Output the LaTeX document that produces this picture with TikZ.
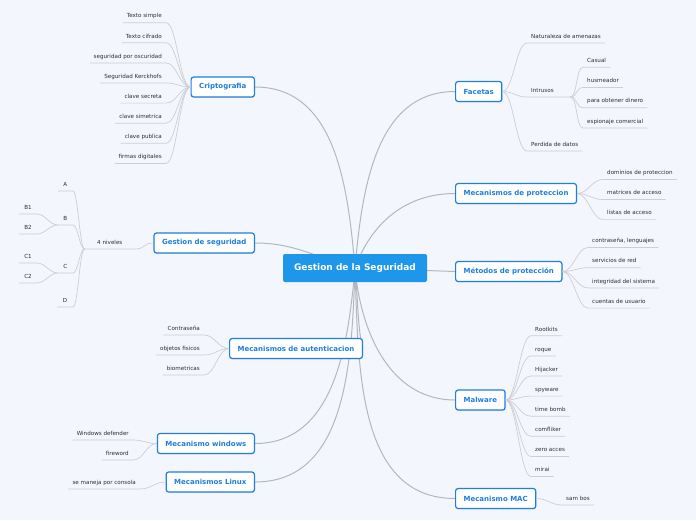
\documentclass[tikz,border=0pt]{standalone}
\usepackage{fontspec}
\setmainfont{DejaVu Sans}
\usetikzlibrary{backgrounds,shadows}

\definecolor{fondo}{HTML}{F3F6FD}
\definecolor{azulhub}{HTML}{1E96EA}
\definecolor{azultema}{HTML}{1F7FDD}
\definecolor{gristema}{HTML}{B5B6C2}
\definecolor{grishoja}{HTML}{CDCED6}
\definecolor{textohoja}{HTML}{2E2E2E}

\begin{document}
\begin{tikzpicture}[x=1pt,y=1pt,
  hub/.style={fill=azulhub,rounded corners=2pt,text=white,font=\fontsize{9}{10}\selectfont\bfseries,
    minimum width=144pt,minimum height=28pt,inner sep=0pt},
  tema/.style={draw=azultema,line width=1.2pt,fill=white,rounded corners=2.5pt,text=azultema,
    font=\fontsize{7}{8}\selectfont\bfseries,inner xsep=8pt,minimum height=20pt,
    drop shadow={shadow xshift=0.5pt,shadow yshift=-0.8pt,opacity=0.18}},
  hoja/.style={text=textohoja,font=\fontsize{5.6}{6.5}\selectfont,inner xsep=4pt,inner ysep=3.2pt,
    text height=4.2pt,text depth=1.4pt},
  hojaL/.style={hoja,anchor=south east},
  hojaR/.style={hoja,anchor=south west},
  rama/.style={draw=gristema,line width=1pt},
  ramita/.style={draw=grishoja,line width=0.7pt},
  izq/.style={out=180,in=0,distance=11},
  der/.style={out=0,in=180,distance=11}]
  \useasboundingbox (0,0) rectangle (696,-520);

  % nodo central y temas
  \node[hub] (hub) at (355,-268) {Gestion de la Seguridad};
  \node[tema,anchor=east] (crypto) at (255,-87) {Criptografia};
  \node[tema,anchor=east] (gest) at (255,-243) {Gestion de seguridad};
  \node[tema,anchor=east] (auth) at (363,-348.5) {Mecanismos de autenticacion};
  \node[tema,anchor=east] (win) at (255,-443.5) {Mecanismo windows};
  \node[tema,anchor=east] (linux) at (255,-482) {Mecanismos Linux};
  \node[tema,anchor=west] (facet) at (455,-91.5) {Facetas};
  \node[tema,anchor=west] (mprot) at (455,-193.5) {Mecanismos de proteccion};
  \node[tema,anchor=west] (metod) at (455,-271.5) {Métodos de protección};
  \node[tema,anchor=west] (malw) at (455,-400) {Malware};
  \node[tema,anchor=west] (mac) at (455,-498.5) {Mecanismo MAC};

  % criptografia
  \foreach \t [count=\i] in {Texto simple,Texto cifrado,seguridad por oscuridad,Seguridad Kerckhofs,
      clave secreta,clave simetrica,clave publica,firmas digitales}{
    \node[hojaL] (cr\i) at (166,{-2.6-20.1*\i}) {\t};
    \draw[ramita] (crypto.west) to[izq] (cr\i.south east) -- (cr\i.south west);
  }

  % gestion de seguridad: 4 niveles
  \node[hojaL,text width=42pt,align=center] (niv) at (135,-249) {4 niveles};
  \draw[ramita] (gest.west) to[izq] (niv.south east) -- (niv.south west);
  \foreach \t/\y in {A/191,B/225,C/273,D/307}{
    \node[hojaL,inner xsep=5.5pt] (nv\t) at (73,-\y) {\t};
    \draw[ramita] (niv.south west) to[out=180,in=0,distance=5] (nv\t.south east) -- (nv\t.south west);
  }
  \foreach \p/\t/\y in {B/B1/214,B/B2/234,C/C1/263,C/C2/283}{
    \node[hojaL,inner xsep=5pt] (nv\t) at (37,-\y) {\t};
    \draw[ramita] (nv\p.south west) to[out=180,in=0,distance=8] (nv\t.south east) -- (nv\t.south west);
  }

  % autenticacion, windows, linux
  \foreach \t [count=\i] in {Contraseña,objetos fisicos,biometricas}{
    \node[hojaL] (au\i) at (204,{-315-20*\i}) {\t};
    \draw[ramita] (auth.west) to[izq] (au\i.south east) -- (au\i.south west);
  }
  \foreach \t [count=\i] in {Windows defender,fireword}{
    \node[hojaL] (wi\i) at (133,{-420-20*\i}) {\t};
    \draw[ramita] (win.west) to[izq] (wi\i.south east) -- (wi\i.south west);
  }
  \node[hojaL] (li1) at (140,-489) {se maneja por consola};
  \draw[ramita] (linux.west) to[izq] (li1.south east) -- (li1.south west);

  % facetas
  \node[hojaR] (fa1) at (527,-43) {Naturaleza de amenazas};
  \node[hojaR,text width=35pt,align=left] (intr) at (527,-97) {Intrusos};
  \node[hojaR] (fa3) at (527,-151) {Perdida de datos};
  \foreach \n in {fa1,intr,fa3}
    \draw[ramita] (facet.east) to[der] (\n.south west) -- (\n.south east);
  \foreach \t [count=\i] in {Casual,husmeador,para obtener dinero,espionaje comercial}{
    \node[hojaR] (in\i) at (583,{-47.1-20.2*\i}) {\t};
    \draw[ramita] (intr.south east) to[out=0,in=180,distance=7] (in\i.south west) -- (in\i.south east);
  }

  % mecanismos y metodos de proteccion
  \foreach \t [count=\i] in {dominios de proteccion,matrices de acceso,listas de acceso}{
    \node[hojaR] (mp\i) at (603,{-159.3-20.1*\i}) {\t};
    \draw[ramita] (mprot.east) to[der] (mp\i.south west) -- (mp\i.south east);
  }
  \foreach \t [count=\i] in {{contraseña, lenguajes},servicios de red,integridad del sistema,cuentas de usuario}{
    \node[hojaR] (me\i) at (588,{-227.3-20.2*\i}) {\t};
    \draw[ramita] (metod.east) to[der] (me\i.south west) -- (me\i.south east);
  }

  % malware y mac
  \foreach \t [count=\i] in {Rootkits,roque,Hijacker,spyware,time bomb,comfliker,zero acces,mirai}{
    \node[hojaR] (mw\i) at (531,{-315.7-20.1*\i}) {\t};
    \draw[ramita] (malw.east) to[der] (mw\i.south west) -- (mw\i.south east);
  }
  \node[hojaR] (ma1) at (562,-505) {sam bos};
  \draw[ramita] (mac.east) to[der] (ma1.south west) -- (ma1.south east);

  % ramas principales detras del nodo central
  \begin{pgfonlayer}{background}
    \fill[fondo] (0,0) rectangle (696,-520);
    \draw[rama] (hub.center) to[out=95,in=0] (crypto.east);
    \draw[rama] (hub.center) to[out=165,in=0] (gest.east);
    \draw[rama] (hub.center) to[out=-82,in=110,looseness=0.5] (auth.east);
    \draw[rama] (hub.center) to[out=-95,in=0] (win.east);
    \draw[rama] (hub.center) to[out=-92,in=0] (linux.east);
    \draw[rama] (hub.center) to[out=85,in=180] (facet.west);
    \draw[rama] (hub.center) to[out=70,in=180] (mprot.west);
    \draw[rama] (hub.center) -- (metod.west);
    \draw[rama] (hub.center) to[out=-85,in=180] (malw.west);
    \draw[rama] (hub.center) to[out=-88,in=180] (mac.west);
  \end{pgfonlayer}
\end{tikzpicture}
\end{document}
